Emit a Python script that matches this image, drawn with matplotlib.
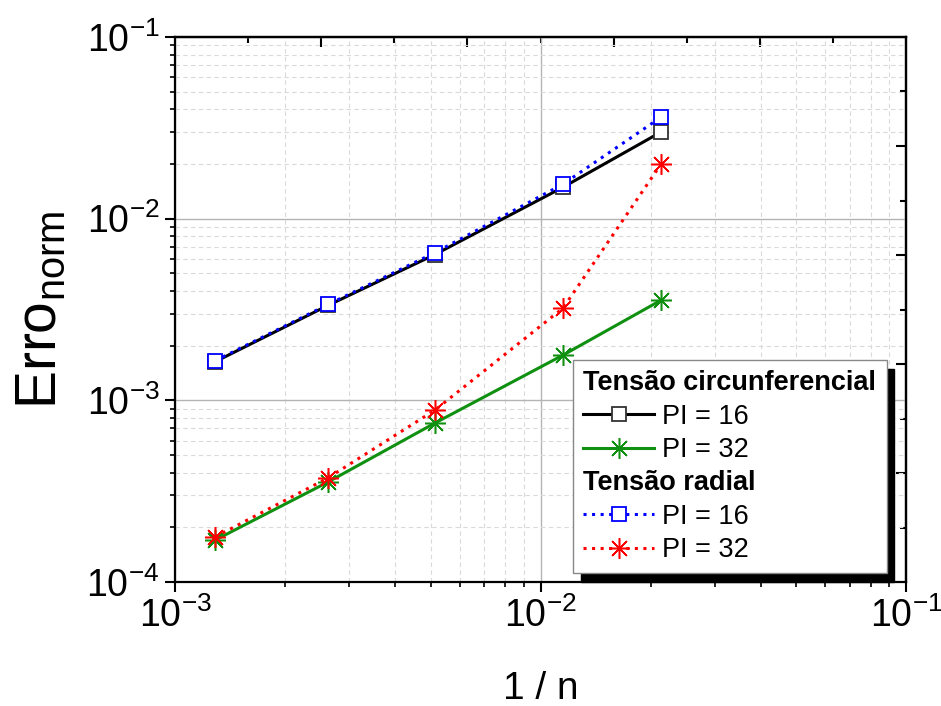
import matplotlib
matplotlib.use('Agg')
import matplotlib.pyplot as plt
from matplotlib.lines import Line2D
from matplotlib.ticker import FixedLocator, NullFormatter

# 1/n values (x) and normalised errors
inv_n = [1.286e-3, 2.62e-3, 5.14e-3, 1.152e-2, 2.136e-2]
circ_pi16 = [1.63e-3, 3.33e-3, 6.35e-3, 1.49e-2, 3.0e-2]
circ_pi32 = [1.70e-4, 3.55e-4, 7.5e-4, 1.775e-3, 3.56e-3]
rad_pi16 = [1.65e-3, 3.37e-3, 6.5e-3, 1.55e-2, 3.62e-2]
rad_pi32 = [1.77e-4, 3.74e-4, 8.84e-4, 3.22e-3, 2.0e-2]

labels = ['Tensão circunferencial', 'PI = 16', 'PI = 32', 'Tensão radial', 'PI = 16', 'PI = 32']

plt.rcParams['font.family'] = ['Liberation Sans', 'DejaVu Sans']
plt.rcParams['mathtext.fontset'] = 'custom'
plt.rcParams['mathtext.rm'] = 'Liberation Sans'
plt.rcParams['mathtext.it'] = 'Liberation Sans:italic'
plt.rcParams['axes.unicode_minus'] = False

GREEN = '#109010'


def main() -> None:
    fig = plt.figure(figsize=(9.41, 7.06), dpi=100)
    ax = fig.add_axes([0.186, 0.1756, 0.777, 0.772])
    ax.set_xscale('log')
    ax.set_yscale('log')
    ax.set_xlim(1e-3, 1e-1)
    ax.set_ylim(1e-4, 1e-1)

    ax.grid(True, which='major', color='#b4b4b4', lw=1.0, ls='-', zorder=0)
    ax.grid(True, which='minor', color='#dadada', lw=0.8, ls=(0, (4, 3)), zorder=0)
    ax.set_axisbelow(True)

    sq = dict(marker='s', markersize=10.5, markerfacecolor='white', markeredgewidth=1.3)
    st = dict(marker=(8, 2, 0), markersize=15, markeredgewidth=1.1)
    h1, = ax.plot(inv_n, circ_pi16, color='black', lw=2.2, markeredgecolor='#333333', **sq)
    h2, = ax.plot(inv_n, circ_pi32, color=GREEN, lw=2.2, markeredgecolor=GREEN, **st)
    h3, = ax.plot(inv_n, rad_pi16, color='blue', lw=2.2, ls=(0, (1, 1.8)), markeredgecolor='blue', **sq)
    h4, = ax.plot(inv_n, rad_pi32, color='red', lw=2.2, ls=(0, (1, 1.8)), markeredgecolor='red', **st)

    for side in ax.spines.values():
        side.set_linewidth(1.6)
    ax.tick_params(which='major', direction='out', length=7, width=1.5, labelsize=27, pad=4,
                   top=False, right=False)
    ax.tick_params(which='minor', direction='out', length=3.5, width=1.2, top=False, right=False)
    ax.xaxis.set_minor_formatter(NullFormatter())
    ax.yaxis.set_minor_formatter(NullFormatter())

    # Origin-style inward ticks on the top and right axes
    top = ax.secondary_xaxis('top')
    top.xaxis.set_major_locator(FixedLocator([10 ** (-3 + 0.4 * k) for k in range(1, 5)]))
    top.xaxis.set_minor_locator(FixedLocator([10 ** (-3 + 0.2 * k) for k in range(1, 10, 2)]))
    top.xaxis.set_major_formatter(NullFormatter())
    top.xaxis.set_minor_formatter(NullFormatter())
    top.tick_params(which='major', direction='in', length=7, width=1.5)
    top.tick_params(which='minor', direction='in', length=4, width=1.5)
    top.spines['top'].set_linewidth(1.6)

    right = ax.secondary_yaxis('right')
    right.yaxis.set_major_locator(FixedLocator([10 ** (-4 + 0.6 * k) for k in range(1, 5)]))
    right.yaxis.set_minor_locator(FixedLocator([10 ** (-4 + 0.3 * k) for k in range(1, 10, 2)]))
    right.yaxis.set_major_formatter(NullFormatter())
    right.yaxis.set_minor_formatter(NullFormatter())
    right.tick_params(which='major', direction='in', length=7, width=1.5)
    right.tick_params(which='minor', direction='in', length=4, width=1.5)
    right.spines['right'].set_linewidth(1.6)

    ax.set_xlabel('1 / n', fontsize=28)
    ax.set_ylabel(r'Erro$_{\mathregular{norm}}$', fontsize=41)
    ax.xaxis.set_label_coords(0.5, -0.163)
    ax.yaxis.set_label_coords(-0.146, 0.5)

    blank = Line2D([], [], color='none')
    leg = ax.legend([blank, h1, h2, blank, h3, h4], labels,
                    loc='upper left', bbox_to_anchor=(0.5445, 0.407), borderaxespad=0,
                    fontsize=19.5, handlelength=2.6, handletextpad=0.3, labelspacing=0.27,
                    borderpad=0.38, numpoints=1, fancybox=False, framealpha=1,
                    edgecolor='#888888',
                    shadow={'ox': 5.5, 'oy': -6, 'facecolor': 'black', 'edgecolor': 'black', 'alpha': 1})
    leg.get_frame().set_linewidth(1.0)
    texts = leg.get_texts()
    rows = leg._legend_handle_box.get_children()[0].get_children()
    for i in (0, 3):
        texts[i].set_fontweight('bold')
        rows[i].sep = 0
        rows[i].get_children()[0].width = 0

    fig.savefig('out.png', dpi=100)
    plt.close(fig)


if __name__ == '__main__':
    main()
